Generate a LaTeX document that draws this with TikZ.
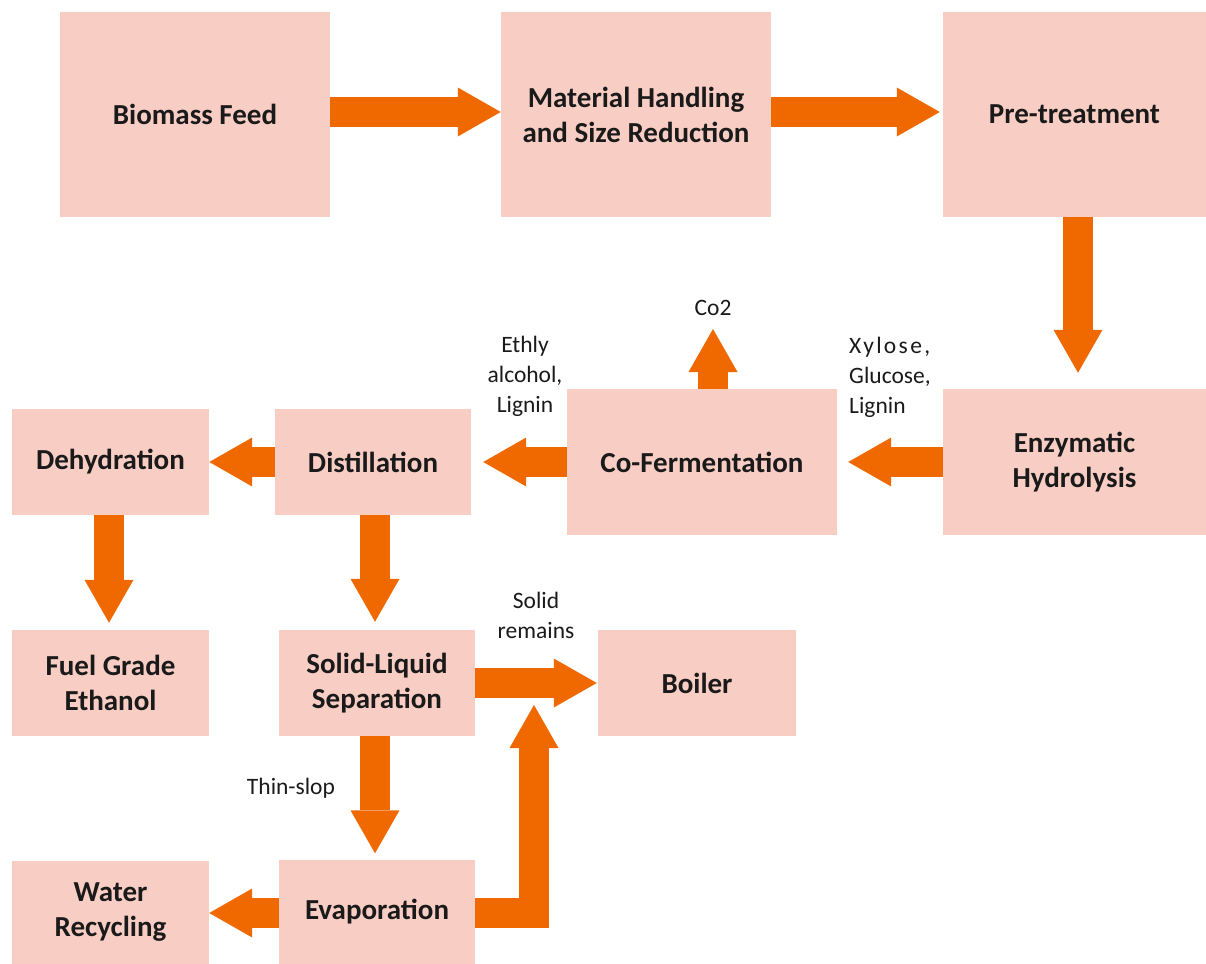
\documentclass[tikz,border=0pt]{standalone}
\usepackage{fontspec}
\setmainfont{Carlito}
\usetikzlibrary{arrows.meta}
\definecolor{boxfill}{HTML}{F8CDC3}
\definecolor{flowc}{HTML}{EF6900}
\definecolor{txt}{HTML}{1A1A1A}
\begin{document}
\begin{tikzpicture}[x=1pt,y=-1pt,
  box/.style={fill=boxfill, draw=none, inner sep=0pt, align=center, text=txt,
    font=\bfseries\fontsize{29}{35}\selectfont},
  lbl/.style={inner sep=0pt, text=txt, font=\fontsize{23.5}{30}\selectfont},
  flow/.style={draw=flowc, line width=30pt, line join=miter,
    -{Triangle[width=49pt,length=43pt,line width=0pt]}}]
\useasboundingbox (0,0) rectangle (1206,963);
% boxes
\node[box, minimum width=270, minimum height=205] (bio) at (195,114.5) {Biomass Feed};
\node[box, minimum width=270, minimum height=205] (mat) at (636,114.5) {Material Handling\\and Size Reduction};
\node[box, minimum width=263, minimum height=205] (pre) at (1074.5,114.5) {Pre-treatment};
\node[box, minimum width=263, minimum height=146] (enz) at (1074.5,462) {Enzymatic\\Hydrolysis};
\node[box, minimum width=270, minimum height=146] (cof) at (702,462) {Co-Fermentation};
\node[box, minimum width=196, minimum height=106] (dis) at (373,462) {Distillation};
\node[box, minimum width=197, minimum height=106] (deh) at (110.5,462) {Dehydration};
\node[box, minimum width=197, minimum height=106] (fuel) at (110.5,683) {Fuel Grade\\Ethanol};
\node[box, minimum width=196, minimum height=106] (sl) at (377,683) {Solid-Liquid\\Separation};
\node[box, minimum width=198, minimum height=106] (boil) at (697,683) {Boiler};
\node[box, minimum width=196, minimum height=104] (evap) at (377,911.5) {Evaporation};
\node[box, minimum width=197, minimum height=104] (wat) at (110.5,912.5) {Water\\Recycling};
% labels
\node[lbl] (co2) at (713,308) {Co2};
\node[lbl, align=center] (eth) at (525,376) {Ethly\\alcohol,\\Lignin};
\node[lbl, align=left, anchor=west] (xyl) at (849,377) {{\addfontfeature{LetterSpace=10}Xylose,}\\Glucose,\\Lignin};
\node[lbl, align=center] (sol) at (536,615) {Solid\\remains};
\node[lbl] (thin) at (291,788) {Thin-slop};
% tip coordinates
\coordinate (co2tip) at (713,329);
\coordinate (btip) at (534,705);
% connectors
\draw[flow] ([yshift=2.5pt]bio.east) -- ([yshift=2.5pt]mat.west);
\draw[flow] ([yshift=2.5pt]mat.east) -- ([xshift=-3pt,yshift=2.5pt]pre.west);
\draw[flow] ([xshift=3.5pt]pre.south) -- ([xshift=3.5pt,yshift=16pt]enz.north);
\draw[flow] (enz.west) -- ([xshift=11pt]cof.east);
\draw[flow] (cof.west) -- ([xshift=12pt]dis.east);
\draw[flow] (cof.north -| co2tip) -- (co2tip);
\draw[flow] (dis.west) -- (deh.east);
\draw[flow] ([xshift=-1.5pt]deh.south) -- ([xshift=-1.5pt,yshift=7pt]fuel.north);
\draw[flow] ([xshift=2pt]dis.south) -- ([xshift=-2pt,yshift=8pt]sl.north);
\draw[flow] (sl.east) -- ([xshift=-1pt]boil.west);
\draw[flow] ([xshift=-2pt]sl.south) -- ([xshift=-2pt,yshift=6pt]evap.north);
\draw[flow] ([yshift=-1.5pt]evap.west) -- ([yshift=-1.5pt]evap.west -| wat.east);
\draw[flow] ([yshift=-1.5pt]evap.east) -| (btip);
\end{tikzpicture}
\end{document}
